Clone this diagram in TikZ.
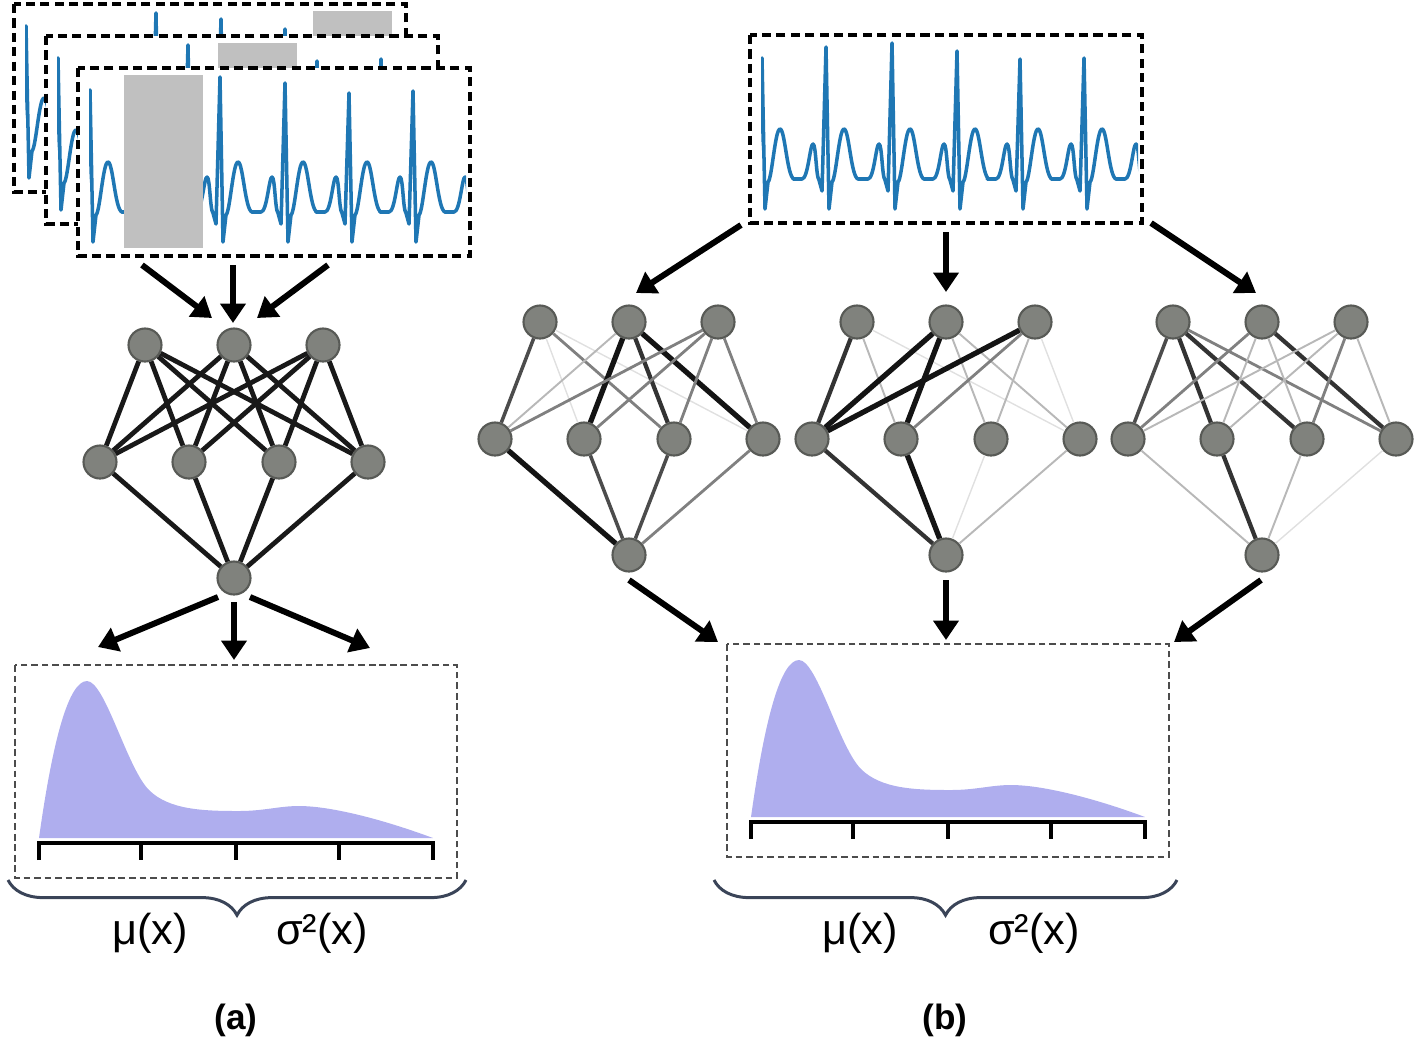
\documentclass[tikz,border=0pt]{standalone}
\usepackage{fontspec}
\setmainfont{Liberation Sans}
\usetikzlibrary{arrows.meta,decorations.pathreplacing}
\definecolor{ecg blue}{RGB}{31,119,180}
\definecolor{mask gray}{RGB}{192,192,192}
\definecolor{unit fill}{RGB}{128,130,125}
\definecolor{unit edge}{RGB}{88,90,86}
\definecolor{density fill}{RGB}{175,174,238}
\definecolor{brace color}{RGB}{58,68,88}
\tikzset{ecg/.style={draw=ecg blue, line width=1pt, line join=round, line cap=round},
    ecgframe/.style={draw=black, line width=0.9pt, dash pattern=on 2.6pt off 1.5pt},
    panel/.style={draw=black!70, line width=0.65pt, dash pattern=on 1.9pt off 1.1pt},
    unit/.style={circle, minimum size=0.33cm, inner sep=0pt, fill=unit fill, draw=unit edge, line width=0.6pt},
    link/.style={draw=black!90, line width=1.35pt},
    w1/.style={draw=black!92, line width=1.5pt},
    w2/.style={draw=black!80, line width=1.2pt},
    w3/.style={draw=black!70, line width=1pt},
    w4/.style={draw=black!50, line width=0.8pt},
    w5/.style={draw=black!28, line width=0.55pt},
    w6/.style={draw=black!12, line width=0.4pt},
    bigarrow/.style={line width=1.7pt, -{Triangle[length=5.5pt,width=7pt]}},
    axisline/.style={line width=1.1pt},
    curly/.style={decorate, decoration={brace, amplitude=10pt}, draw=brace color, line width=0.85pt},
    pnlabel/.style={font=\fontsize{12.3pt}{14pt}\selectfont},
    caption/.style={font=\bfseries\fontsize{10pt}{12pt}\selectfont}}
\def\densitycurve{(0,0) .. controls (14,-100) and (30,-157) .. (48,-157)
    .. controls (66,-157) and (88,-70) .. (110,-48)
    .. controls (130,-28) and (165,-27) .. (200,-27)
    .. controls (225,-27) and (240,-32) .. (260,-32)
    .. controls (290,-32) and (340,-20) .. (394,0)}
\def\leftbeats{12/-122, 77/-80, 142/-135, 207/-129, 271/-119, 335/-121, 400/-125}
\def\rightbeats{12/-121, 76/-132, 142/-136, 207/-128, 270/-120, 334/-121, 399/-120}
% one heart beat per R peak (x, amplitude)
\newcommand\ecgtrace[1]{%
    \foreach \r/\a in #1 {
        \begin{scope}[shift={(\r,144)}]
            \draw[ecg] (-33,0) -- (-24,0) .. controls (-18,0) and (-16,-35) .. (-13,-35)
                .. controls (-10,-35) and (-10,-2) .. (-7,1) -- (-4,12) -- (0,\a) -- (3,30)
                -- (6,3) .. controls (10,0) and (13,-50) .. (18,-50)
                .. controls (23,-50) and (25,-2) .. (32,0) -- (33,0);
        \end{scope}}}
\newcommand\ecgwindow[3]{%
    \begin{scope}[shift={(#1,#2)}]
        \fill[white] (0,0) rectangle (392,188);
        \begin{scope}
            \clip (11,4) rectangle (388,184);
            \ecgtrace{#3}
        \end{scope}
        \draw[ecgframe] (0,0) rectangle (392,188);
    \end{scope}}
\newcommand\netnodes[3]{%
    \begin{scope}[shift={(#2,#3)}]
        \foreach \i/\x in {1/-89,2/0,3/89} \node[unit] (#1t\i) at (\x,0) {};
        \foreach \i/\x in {1/-134,2/-45,3/45,4/134} \node[unit] (#1m\i) at (\x,117) {};
        \node[unit] (#1b) at (0,233) {};
    \end{scope}}
\newcommand\densitypanel[2]{%
    \begin{scope}[shift={(#1,#2)}]
        \fill[density fill] \densitycurve -- cycle;
        \draw[axisline] (0,22) -- (0,5) -- (394,5) -- (394,22);
        \foreach \x in {102,197,300} \draw[axisline] (\x,5) -- (\x,22);
        \draw[panel] (-24,-173) rectangle (418,40);
    \end{scope}}

\begin{document}
\begin{tikzpicture}[x=0.01cm, y=-0.01cm]
    \useasboundingbox (0,0) rectangle (1416,1039);

    % (a) masked windows
    \ecgwindow{14}{4}{\leftbeats}
    \fill[mask gray] (313,11) rectangle ++(79,173);
    \ecgwindow{46}{36}{\leftbeats}
    \fill[mask gray] (218,43) rectangle ++(79,173);
    \ecgwindow{78}{68}{\leftbeats}
    \fill[mask gray] (124,75) rectangle ++(79,173);

    \netnodes{a}{234}{345}
    \foreach \t in {1,2,3}
        \foreach \m in {1,...,4} \draw[link] (at\t) -- (am\m);
    \foreach \m in {1,...,4} \draw[link] (am\m) -- (ab);

    \coordinate (a-in1) at (142,265);  \coordinate (a-to1) at (212,318);
    \coordinate (a-in2) at (233,265);  \coordinate (a-to2) at (233,323);
    \coordinate (a-in3) at (328,265);  \coordinate (a-to3) at (257,318);
    \coordinate (a-out1) at (218,597); \coordinate (a-pd1) at (98,647);
    \coordinate (a-out2) at (234,602); \coordinate (a-pd2) at (234,660);
    \coordinate (a-out3) at (250,597); \coordinate (a-pd3) at (370,648);
    \foreach \i in {1,2,3} {
        \draw[bigarrow] (a-in\i) -- (a-to\i);
        \draw[bigarrow] (a-out\i) -- (a-pd\i);
    }

    \densitypanel{39}{838}
    \coordinate (a-brace-r) at (466,880);
    \coordinate (a-brace-l) at (8,880);
    \draw[curly] (a-brace-r) -- (a-brace-l);
    \node[pnlabel] (a-mu) at (150,933) {μ(x)};
    \node[pnlabel] (a-var) at (322,933) {σ²(x)};
    \node[caption] (a-cap) at (236,1020) {(a)};

    % (b) dropout ensemble
    \ecgwindow{750}{35}{\rightbeats}

    \netnodes{p}{629}{322}
    \netnodes{q}{946}{322}
    \netnodes{r}{1262}{322}
    \foreach \t/\m/\w in {1/1/w3, 1/2/w6, 1/3/w4, 1/4/w6, 2/1/w5, 2/2/w1, 2/3/w2, 2/4/w1,
                          3/1/w4, 3/2/w4, 3/3/w4, 3/4/w4}
        \draw[\w] (pt\t) -- (pm\m);
    \foreach \m/\w in {1/w1, 2/w3, 3/w3, 4/w4} \draw[\w] (pm\m) -- (pb);
    \foreach \t/\m/\w in {1/1/w2, 1/2/w5, 1/4/w6, 2/1/w1, 2/2/w1, 2/3/w5, 2/4/w5,
                          3/1/w1, 3/2/w4, 3/3/w5, 3/4/w6}
        \draw[\w] (qt\t) -- (qm\m);
    \foreach \m/\w in {1/w2, 2/w1, 3/w6, 4/w5} \draw[\w] (qm\m) -- (qb);
    \foreach \t/\m/\w in {1/1/w3, 1/2/w2, 1/3/w2, 1/4/w4, 2/1/w4, 2/2/w5, 2/3/w5, 2/4/w2,
                          3/1/w5, 3/2/w5, 3/3/w4, 3/4/w5}
        \draw[\w] (rt\t) -- (rm\m);
    \foreach \m/\w in {1/w5, 2/w2, 3/w5, 4/w6} \draw[\w] (rm\m) -- (rb);

    \coordinate (b-in1) at (741,225);  \coordinate (b-to1) at (636,293);
    \coordinate (b-in2) at (946,232);  \coordinate (b-to2) at (946,292);
    \coordinate (b-in3) at (1151,223); \coordinate (b-to3) at (1256,293);
    \coordinate (b-out1) at (629,580);  \coordinate (b-pd1) at (718,642);
    \coordinate (b-out2) at (946,580);  \coordinate (b-pd2) at (946,640);
    \coordinate (b-out3) at (1261,580); \coordinate (b-pd3) at (1174,642);
    \foreach \i in {1,2,3} {
        \draw[bigarrow] (b-in\i) -- (b-to\i);
        \draw[bigarrow] (b-out\i) -- (b-pd\i);
    }

    \densitypanel{751}{817}
    \coordinate (b-brace-r) at (1177,880);
    \coordinate (b-brace-l) at (714,880);
    \draw[curly] (b-brace-r) -- (b-brace-l);
    \node[pnlabel] (b-mu) at (860,933) {μ(x)};
    \node[pnlabel] (b-var) at (1034,933) {σ²(x)};
    \node[caption] (b-cap) at (945,1020) {(b)};
\end{tikzpicture}
\end{document}
